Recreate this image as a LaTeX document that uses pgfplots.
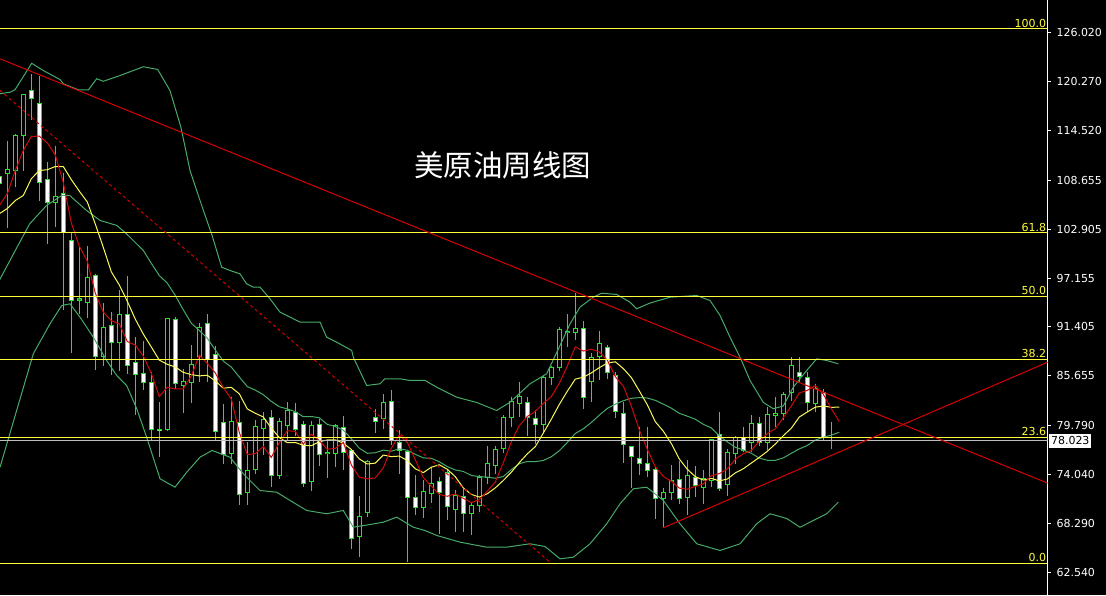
\documentclass[border=0pt]{standalone}
\usepackage{pgfplots}
\pgfplotsset{compat=1.18}
\usepackage{pgfplotstable}
\usepackage{fontspec}
\setmainfont{DejaVu Sans}
\newfontfamily\cjk{Noto Sans CJK SC}

\definecolor{bar}{RGB}{40,225,40}
\definecolor{band}{RGB}{70,170,105}
\definecolor{mafast}{RGB}{205,10,10}
\definecolor{maslow}{RGB}{250,250,90}
\definecolor{fib}{RGB}{255,255,60}
\definecolor{tline}{RGB}{215,0,0}
\definecolor{pline}{RGB}{190,190,190}

% weekly candles, prices in USD
\pgfplotstableread{
i o h l c
0 109.11 109.58 107.69 108.28
1 109.42 113.34 102.99 109.97
2 109.81 114.13 107.85 113.90
3 113.90 118.84 109.81 118.76
4 119.19 121.19 115.70 118.25
5 117.66 120.99 106.28 108.37
6 108.72 110.87 101.19 106.08
7 106.08 112.75 103.14 106.75
8 107.07 109.49 93.34 102.48
9 101.54 102.55 88.31 94.51
10 94.57 100.79 92.87 94.69
11 94.24 100.95 92.43 97.26
12 97.42 97.66 86.36 87.92
13 87.92 94.20 86.75 91.30
14 91.54 93.14 85.69 89.53
15 89.61 95.69 86.27 92.83
16 92.83 97.34 85.89 86.86
17 87.25 90.19 80.98 85.80
18 85.89 89.69 83.92 84.90
19 84.90 86.07 78.04 79.33
20 79.30 82.54 76.07 79.18
21 79.33 92.48 79.21 92.36
22 92.24 92.55 84.12 84.71
23 84.51 86.47 81.25 84.98
24 84.90 89.30 82.43 86.95
25 87.92 91.81 84.90 91.37
26 91.84 92.95 84.90 87.53
27 88.12 89.10 78.04 79.13
28 80.12 82.36 75.29 76.35
29 76.47 83.21 75.29 80.27
30 80.12 82.74 70.39 71.65
31 71.95 77.84 70.39 74.51
32 74.62 80.39 74.12 79.68
33 79.41 81.37 76.27 80.51
34 80.71 81.57 72.62 73.88
35 73.92 80.63 73.56 80.27
36 79.80 82.54 78.04 81.57
37 81.37 82.43 78.51 79.30
38 79.88 80.31 72.51 73.01
39 73.25 80.31 72.15 79.80
40 79.92 80.59 75.09 76.35
41 76.45 78.12 73.65 76.57
42 76.47 79.92 74.89 79.77
43 79.60 80.90 74.51 76.59
44 76.86 77.06 65.29 66.54
45 66.77 71.56 64.30 69.13
46 69.60 75.77 69.01 75.60
47 80.71 81.77 78.90 80.31
48 80.66 83.53 79.41 82.54
49 82.63 83.92 77.45 78.04
50 77.84 79.30 74.04 76.86
51 76.78 76.86 63.71 71.36
52 71.36 73.92 69.21 70.12
53 70.12 73.33 68.86 72.03
54 71.76 74.89 70.66 72.94
55 73.21 73.72 67.06 71.95
56 74.24 74.71 68.62 70.30
57 69.88 72.23 67.24 71.56
58 71.45 72.35 67.24 69.41
59 69.48 70.78 66.86 70.39
60 70.39 73.92 69.60 73.72
61 73.72 77.33 72.86 75.29
62 75.09 77.33 74.12 76.94
63 77.06 80.98 76.54 80.78
64 80.78 83.21 79.68 82.66
65 82.36 84.90 80.78 83.21
66 82.54 83.13 78.62 80.78
67 80.66 81.65 77.65 79.88
68 79.92 85.69 79.01 85.49
69 85.49 86.86 84.60 86.66
70 86.66 91.37 86.27 91.06
71 90.72 92.95 89.02 90.84
72 90.78 95.37 89.81 91.18
73 91.25 92.08 81.77 83.06
74 84.98 88.39 82.54 87.77
75 87.92 90.98 85.10 89.42
76 89.02 89.33 85.33 86.00
77 85.69 86.07 80.63 81.45
78 81.25 82.54 75.36 77.57
79 77.33 77.37 72.45 76.12
80 75.88 79.57 73.92 75.29
81 75.29 79.60 73.72 74.51
82 74.59 74.89 68.82 71.25
83 71.18 72.47 67.83 71.88
84 71.95 75.18 70.98 73.33
85 73.41 75.68 70.59 71.18
86 71.36 75.77 69.21 73.92
87 73.72 75.09 71.36 72.74
88 72.54 74.51 70.59 73.53
89 73.33 78.24 72.54 78.12
90 78.71 81.37 72.15 72.35
91 72.82 77.06 71.45 76.66
92 76.47 78.62 75.29 78.42
93 78.42 79.60 76.66 76.86
94 77.84 80.98 76.66 80.00
95 80.07 80.78 77.33 77.84
96 77.84 81.96 76.86 81.10
97 80.98 83.10 79.60 81.25
98 81.18 83.72 80.39 83.42
99 83.72 87.84 82.74 86.86
100 86.00 87.84 84.86 85.57
101 85.49 86.07 81.33 82.54
102 82.36 84.71 81.37 84.12
103 83.69 84.04 78.15 78.33
104 78.35 80.16 77.06 78.33
105 78.05 78.10 77.95 78.02
}\candles

\pgfdeclareplotmark{nomark}{}

\pgfplotsset{fibline/.style={fib, line width=1pt}}
\tikzset{fiblabel/.style={pos=1, anchor=south east, inner sep=1pt, text=fib,
    font=\fontsize{11}{12}\selectfont}}

\begin{document}
\begin{tikzpicture}
\fill[black] (0,0) rectangle (1106pt,594pt);
\begin{axis}[
  at={(0,0)}, anchor=south west,
  scale only axis, width=1047.6pt, height=594pt,
  xmin=0.0875, xmax=131.0375, ymin=59.91, ymax=129.82,
  clip mode=individual,
  axis x line=none, axis y line*=right,
  axis line style={white, line width=1pt, -},
  ytick={62.54,68.29,74.04,79.79,85.655,91.405,97.155,102.905,108.655,114.52,120.27,126.02},
  yticklabels={62.540,68.290,74.040,79.790,85.655,91.405,97.155,102.905,108.655,114.520,120.270,126.020},
  tick align=outside, major tick length=3pt,
  ytick style={white, line width=1pt},
  yticklabel style={white, anchor=west, inner sep=0pt, xshift=5.7pt,
    font=\fontsize{11}{12}\selectfont},
]

% candle wicks: low to high
\addplot[only marks, mark=nomark,
  error bars/.cd, y dir=minus, y explicit, error mark=none,
  error bar style={bar, line width=1pt}]
  table[x=i, y=h, y error minus expr={\thisrow{h}-\thisrow{l}}] {\candles};
% candle bodies: green outline
\addplot[only marks, mark=nomark,
  error bars/.cd, y dir=minus, y explicit, error mark=none,
  error bar style={bar, line width=5pt, shorten <=-0.5pt, shorten >=-0.5pt}]
  table[x=i, y expr={max(\thisrow{o},\thisrow{c})},
        y error minus expr={abs(\thisrow{o}-\thisrow{c})}] {\candles};
% falling weeks: white inside
\addplot[only marks, mark=nomark,
  restrict expr to domain={\thisrow{o}-\thisrow{c}}{0.12:1000},
  error bars/.cd, y dir=minus, y explicit, error mark=none,
  error bar style={white, line width=3pt, shorten <=0.5pt, shorten >=0.5pt}]
  table[x=i, y=o, y error minus expr={\thisrow{o}-\thisrow{c}}] {\candles};
% rising weeks: hollow
\addplot[only marks, mark=nomark,
  restrict expr to domain={\thisrow{c}-\thisrow{o}}{0.12:1000},
  error bars/.cd, y dir=minus, y explicit, error mark=none,
  error bar style={black, line width=3pt, shorten <=0.5pt, shorten >=0.5pt}]
  table[x=i, y=c, y error minus expr={\thisrow{c}-\thisrow{o}}] {\candles};

% Bollinger bands (20)
\addplot[band, line width=1pt] coordinates {
(0.09,118.84) (1.34,119.03) (1.96,119.31) (4.05,122.43) (5.5,121.58) (7.59,120.52)
(8.0,120.02) (9.88,119.31) (11.13,119.31) (12.18,120.61) (13.0,120.31) (15.09,120.99)
(18.0,122.02) (19.8,121.70) (21.33,119.23) (22.7,114.91) (23.84,109.81) (25.3,105.69)
(26.6,102.16) (27.8,98.43) (28.84,98.04) (30.09,97.65) (30.9,96.48) (31.75,96.08)
(32.59,96.08) (33.84,94.71) (35.09,93.14) (37.59,91.96) (40.09,91.96) (40.92,90.19)
(42.18,89.60) (44.05,88.63) (44.25,87.84) (45.92,84.51) (47.59,84.71) (48.2,85.30)
(50.09,85.30) (51.34,85.10) (53.21,85.10) (54.67,84.31) (57.18,83.13) (59.67,82.51)
(62.17,81.57) (63.84,82.54) (66.34,84.71) (68.42,85.89) (70.09,89.22) (71.34,91.77)
(72.59,93.73) (74.25,94.90) (75.3,95.37) (77.18,95.22) (78.84,94.31) (79.67,93.54)
(81.3,94.2) (83.84,94.90) (87.18,95.10) (88.84,94.51) (90.09,92.75) (91.34,90.19)
(92.59,87.84) (93.84,85.10) (95.5,82.51) (96.75,81.77) (98.0,82.10) (99.25,84.31)
(100.92,86.27) (102.17,87.65) (103.42,87.45) (104.88,87.06)};
\addplot[band, line width=1pt] coordinates {
(0,96.87) (2,100.40) (3.8,103.54) (5.9,105.69) (7.8,106.87) (8.8,106.87) (10.9,105.11)
(12.6,103.93) (14.7,103.34) (15.9,102.36) (18,100.40) (19,98.89) (20,97.44) (21,96.56)
(22,95.10) (23,93.41) (24,91.84) (25,90.99) (26,90.07) (27,88.69) (28,87.38) (29,86.67)
(30,85.51) (31,84.38) (32,83.96) (33,83.43) (34,82.64) (35,82.01) (36,81.75) (37,81.43)
(38,80.83) (39,80.86) (40,80.71) (41,79.93) (42,79.68) (43,79.26) (44,78.24) (45,77.13)
(46,76.53) (47,76.59) (48,76.90) (49,76.78) (50,77.05) (51,76.89) (52,76.41) (53,75.99)
(54,75.94) (55,75.53) (56,74.96) (57,74.57) (58,74.39) (59,73.92) (60,73.79) (61,73.73)
(62,73.59) (63,73.79) (64,74.60) (65,75.31) (66,75.56) (67,75.54) (68,75.69) (69,76.12)
(70,76.83) (71,77.80) (72,78.86) (73,79.41) (74,80.15) (75,81.02) (76,81.81) (77,82.31)
(78,82.71) (79,83.00) (80,83.08) (81,83.04) (82,82.76) (83,82.31) (84,81.84) (85,81.24)
(86,80.90) (87,80.54) (88,79.94) (89,79.52) (90,78.58) (91,77.87) (92,77.24) (93,76.92)
(94,76.53) (95,75.96) (96,75.71) (97,75.70) (98,75.99) (99,76.53) (100,77.04) (101,77.45)
(102,78.09) (103,78.41) (104,78.66) (105,79.01)};
\addplot[band, line width=1pt] coordinates {
(0.09,74.89) (2.17,81.57) (4.25,88.24) (6.34,91.77) (7.8,93.92) (8.84,94.12) (10.09,92.55)
(11.75,90.19) (13.42,87.45) (14.67,85.69) (15.92,84.51) (17.18,81.77) (18.42,78.42)
(20.09,73.53) (21.96,72.54) (23.43,74.30) (25.09,76.07) (26.6,76.86) (28.84,76.07)
(30.5,74.12) (32.59,72.15) (34.67,71.95) (36.34,70.98) (38.42,69.80) (40.92,69.41)
(43.0,69.80) (44.25,67.83) (46.34,68.15) (48.0,68.42) (49.68,69.01) (51.75,67.83)
(53.2,67.44) (54.68,66.86) (57.59,66.07) (60.92,65.48) (63.42,65.48) (66.34,65.88)
(68.21,65.56) (70.09,64.11) (71.75,64.30) (73.84,65.88) (75.92,68.23) (77.59,70.59)
(79.25,72.35) (80.92,72.54) (83.0,70.98) (85.09,68.23) (87.18,65.88) (90.09,65.09)
(92.59,65.88) (94.67,68.23) (96.34,69.41) (98.42,68.86) (100.09,67.83) (101.75,68.62)
(103.42,69.41) (104.88,70.78)};

% slow moving average (10)
\addplot[maslow, line width=1pt] coordinates {
(0,104.72) (1,105.34) (2,106.28) (3,106.87) (4,108.84) (5,109.81) (6,109.90) (7,110.28)
(8,110.28) (9,108.74) (10,107.38) (11,106.11) (12,103.51) (13,100.77) (14,97.89) (15,96.34)
(16,94.42) (17,92.32) (18,90.56) (19,89.04) (20,87.49) (21,87.00) (22,86.68) (23,86.05)
(24,85.79) (25,85.64) (26,85.71) (27,85.05) (28,84.19) (29,84.29) (30,83.53) (31,81.75)
(32,81.24) (33,80.80) (34,79.49) (35,78.38) (36,77.78) (37,77.80) (38,77.47) (39,77.42)
(40,77.89) (41,78.10) (42,78.11) (43,77.72) (44,76.98) (45,75.87) (46,75.27) (47,75.37)
(48,76.32) (49,76.14) (50,76.20) (51,75.68) (52,74.71) (53,74.25) (54,74.89) (55,75.18)
(56,74.65) (57,73.77) (58,72.46) (59,71.69) (60,71.38) (61,71.77) (62,72.46) (63,73.33)
(64,74.30) (65,75.43) (66,76.47) (67,77.31) (68,78.91) (69,80.54) (70,82.28) (71,83.83)
(72,85.26) (73,85.48) (74,85.99) (75,86.61) (76,87.14) (77,87.30) (78,86.50) (79,85.45)
(80,83.87) (81,82.24) (82,80.25) (83,79.13) (84,77.68) (85,75.86) (86,74.65) (87,73.78)
(88,73.38) (89,73.58) (90,73.28) (91,73.50) (92,74.22) (93,74.71) (94,75.38) (95,76.05)
(96,76.76) (97,77.62) (98,78.60) (99,79.48) (100,80.80) (101,81.39) (102,81.96) (103,82.10)
(104,81.94) (105,81.96)};

% fast moving average (5)
\addplot[mafast, line width=1pt] coordinates {
(0,105.69) (1,107.07) (2,109.81) (3,112.17) (4,113.83) (5,113.85) (6,113.07) (7,111.64)
(8,108.39) (9,103.64) (10,100.90) (11,99.14) (12,95.37) (13,93.14) (14,92.14) (15,91.77)
(16,89.69) (17,89.26) (18,87.98) (19,85.94) (20,83.21) (21,84.31) (22,84.10) (23,84.11)
(24,85.64) (25,88.07) (26,87.11) (27,85.99) (28,84.27) (29,82.93) (30,78.99) (31,76.38)
(32,76.49) (33,77.32) (34,76.05) (35,77.77) (36,79.18) (37,79.11) (38,77.61) (39,78.79)
(40,78.01) (41,77.01) (42,77.10) (43,77.82) (44,75.16) (45,73.72) (46,73.53) (47,73.63)
(48,74.82) (49,77.12) (50,78.67) (51,77.82) (52,75.78) (53,73.68) (54,72.66) (55,71.68)
(56,71.47) (57,71.76) (58,71.23) (59,70.72) (60,71.08) (61,72.07) (62,73.15) (63,75.42)
(64,77.88) (65,79.78) (66,80.87) (67,81.46) (68,82.40) (69,83.20) (70,84.77) (71,86.79)
(72,89.05) (73,88.56) (74,88.78) (75,88.45) (76,87.49) (77,85.54) (78,84.44) (79,82.11)
(80,79.29) (81,76.99) (82,74.95) (83,73.81) (84,73.25) (85,72.43) (86,72.31) (87,72.61)
(88,72.94) (89,73.90) (90,74.13) (91,74.68) (92,75.82) (93,76.48) (94,76.86) (95,77.96)
(96,78.84) (97,79.41) (98,80.72) (99,82.09) (100,83.64) (101,83.93) (102,84.50) (103,83.48)
(104,81.78) (105,80.27)};

% Fibonacci retracement levels
\addplot[fibline] coordinates {(0.0875,126.50) (131.0375,126.50)} node[fiblabel] {100.0};
\addplot[fibline] coordinates {(0.0875,102.46) (131.0375,102.46)} node[fiblabel] {61.8};
\addplot[fibline] coordinates {(0.0875,95.03) (131.0375,95.03)} node[fiblabel] {50.0};
\addplot[fibline] coordinates {(0.0875,87.61) (131.0375,87.61)} node[fiblabel] {38.2};
\addplot[fibline] coordinates {(0.0875,78.42) (131.0375,78.42)} node[fiblabel] {23.6};
\addplot[fibline] coordinates {(0.0875,63.57) (131.0375,63.57)} node[fiblabel] {0.0};

% last price
\addplot[pline, line width=1pt] coordinates {(0.0875,78.023) (131.0375,78.023)};

% trend lines
\addplot[tline, line width=1pt] coordinates {(0.0875,122.96) (131.0375,73.02)};
\addplot[tline, line width=1pt, dash pattern=on 3pt off 3pt] coordinates {(0.0875,119.23) (68.84,63.71)};
\addplot[tline, line width=1pt] coordinates {(83.0,67.76) (131.0375,87.25)};

\node[text=white, font=\cjk\fontsize{29.5}{32}\selectfont] at (axis cs:62.96,110.40) {美原油周线图};
\node[fill=white, text=black, anchor=west, inner xsep=1.8pt, inner ysep=3pt,
  text height=8pt, text depth=0pt, font=\fontsize{11}{12}\selectfont,
  xshift=1.4pt] at (axis cs:131.0375,78.023) {78.023};
\end{axis}
\end{tikzpicture}
\end{document}
